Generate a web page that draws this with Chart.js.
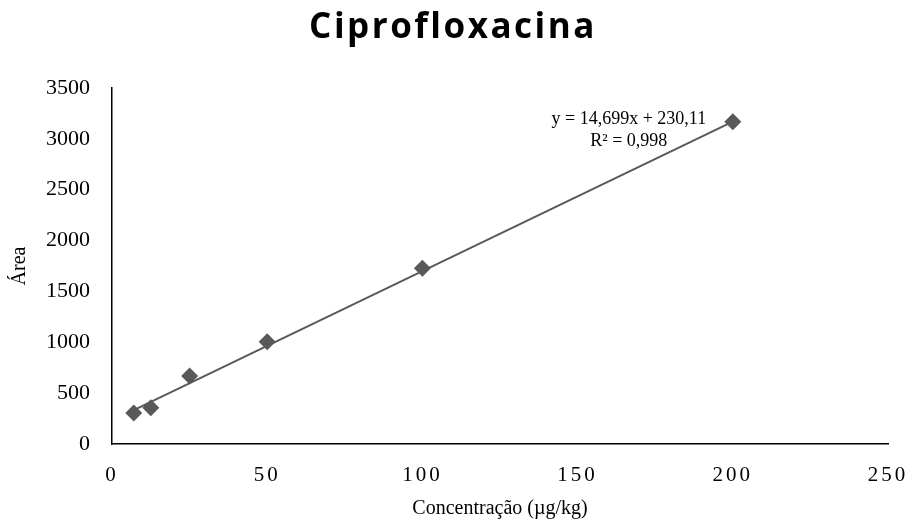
<!DOCTYPE html>
<html>
<head>
<meta charset="utf-8">
<script src="https://cdn.jsdelivr.net/npm/chart.js@4/dist/chart.umd.min.js"></script>
<style>
  html, body { margin: 0; padding: 0; background: #fff; }
  #wrap { width: 912px; height: 524px; }
</style>
</head>
<body>
<div id="wrap"><canvas id="c" width="912" height="524"></canvas></div>
<script>
// ---- data ----
const chartTitle = 'Ciprofloxacina';
const concentrations = [7, 12.5, 25, 50, 100, 200];      // µg/kg
const areas = [305, 357, 669, 1006, 1727, 3169];          // Área
const xTicks = [0, 50, 100, 150, 200, 250];
const yTicks = [0, 500, 1000, 1500, 2000, 2500, 3000, 3500];
const slope = 14.699;
const intercept = 230.11;
const equationLines = ['y = 14,699x + 230,11', 'R² = 0,998'];
const equationAnchor = [166.5, 3192];   // data coords of first line centre
const xTitle = 'Concentração (µg/kg)';
const yTitle = 'Área';

// ---- custom scale with letter spacing for tick labels ----
class SpacedLinear extends Chart.LinearScale {
  drawLabels(area) {
    const ctx = this.ctx;
    ctx.save();
    ctx.letterSpacing = this.options.ticks.letterSpacing || '0px';
    super.drawLabels(area);
    ctx.restore();
  }
}
SpacedLinear.id = 'spacedLinear';
SpacedLinear.defaults = Chart.LinearScale.defaults;
Chart.register(SpacedLinear);

const trendX = [concentrations[0], concentrations[concentrations.length - 1]];
const trendData = trendX.map(x => ({ x: x, y: slope * x + intercept }));
const points = concentrations.map((x, i) => ({ x: x, y: areas[i] }));

const titlePlugin = {
  id: 'customTitle',
  afterDraw(chart) {
    const ctx = chart.ctx;
    ctx.save();
    ctx.font = 'bold 35px "Open Sans", "Noto Sans", sans-serif';
    ctx.letterSpacing = '2.5px';
    ctx.fillStyle = '#000';
    ctx.textAlign = 'center';
    ctx.textBaseline = 'middle';
    ctx.fillText(chartTitle, 453, 28);
    ctx.restore();
  }
};

const equationPlugin = {
  id: 'equation',
  afterDatasetsDraw(chart) {
    const ctx = chart.ctx;
    const xs = chart.scales.x, ys = chart.scales.y;
    const px = xs.getPixelForValue(equationAnchor[0]);
    const py = ys.getPixelForValue(equationAnchor[1]);
    ctx.save();
    ctx.font = '18px "Liberation Serif", "Times New Roman", serif';
    ctx.fillStyle = '#000';
    ctx.textAlign = 'center';
    ctx.textBaseline = 'middle';
    equationLines.forEach((t, i) => ctx.fillText(t, px, py + i * 22));
    ctx.restore();
  }
};

new Chart(document.getElementById('c'), {
  data: {
    datasets: [
      {
        type: 'scatter',
        data: points,
        pointStyle: 'rectRot',
        pointRadius: 8.5,
        pointHoverRadius: 8.5,
        backgroundColor: '#595959',
        borderColor: '#595959',
        borderWidth: 0,
        order: 1
      },
      {
        type: 'line',
        data: trendData,
        borderColor: '#595959',
        borderWidth: 2,
        pointRadius: 0,
        fill: false,
        order: 2
      }
    ]
  },
  options: {
    responsive: false,
    animation: false,
    layout: { padding: { top: 88, right: 24, left: 0, bottom: 0 } },
    plugins: {
      legend: { display: false },
      tooltip: { enabled: false },
      title: { display: false }
    },
    scales: {
      x: {
        type: 'spacedLinear',
        min: 0, max: 250,
        afterBuildTicks: s => { s.ticks = xTicks.map(v => ({ value: v })); },
        grid: { display: false, drawTicks: false },
        border: { display: true, color: '#000', width: 1.5 },
        ticks: {
          font: { family: '"Liberation Serif", "Times New Roman", serif', size: 21 },
          color: '#000',
          padding: 19,
          letterSpacing: '3px',
          maxRotation: 0,
          callback: v => String(v)
        },
        title: {
          display: true,
          text: xTitle,
          font: { family: '"Liberation Serif", "Times New Roman", serif', size: 20 },
          color: '#000',
          padding: { top: 0, bottom: 3 }
        },
        afterFit: s => { s.height = 80; s.paddingLeft = 0; s.paddingRight = 0; }
      },
      y: {
        type: 'linear',
        min: 0, max: 3500,
        afterBuildTicks: s => { s.ticks = yTicks.map(v => ({ value: v })); },
        grid: { display: false, drawTicks: false },
        border: { display: true, color: '#000', width: 1.5 },
        ticks: {
          font: { family: '"Liberation Serif", "Times New Roman", serif', size: 22 },
          color: '#000',
          padding: 22,
          callback: v => String(v)
        },
        title: {
          display: true,
          text: yTitle,
          font: { family: '"Liberation Serif", "Times New Roman", serif', size: 20 },
          color: '#000',
          padding: { top: 8, bottom: 0 }
        },
        afterFit: s => { s.width = 112; s.paddingTop = 0; s.paddingBottom = 0; }
      }
    }
  },
  plugins: [titlePlugin, equationPlugin]
});
</script>
</body>
</html>
